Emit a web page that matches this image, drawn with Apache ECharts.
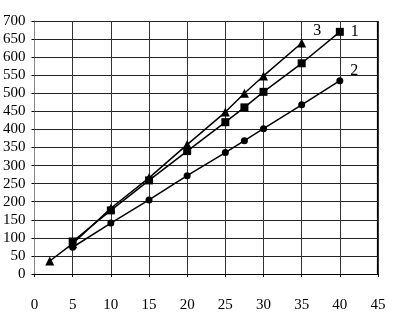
<!DOCTYPE html>
<html><head><meta charset="utf-8">
<script src="https://cdn.jsdelivr.net/npm/echarts@6/dist/echarts.min.js"></script>
<style>html,body{margin:0;padding:0;background:#fff}#c{width:400px;height:320px}</style>
</head><body><div id="c"></div>
<script>
const xTicks = [0,5,10,15,20,25,30,35,40,45];
const yTicks = [0,50,100,150,200,250,300,350,400,450,500,550,600,650,700];
const series1X = [5,10,15,20,25,27.5,30,35,40];
const series1Y = [90,176,259,340,420,461,504,583,670];
const series2X = [5,10,15,20,25,27.5,30,35,40];
const series2Y = [74,141,205,272,336,369,402,468,535];
const series3X = [2,5,10,15,20,25,27.5,30,35];
const series3Y = [36,84,182,266,358,448,500,548,639];
const seriesNames = ['1','2','3'];

const font = '"Liberation Sans Narrow","Liberation Serif",serif';
function pts(xs, ys, name, off){
  return xs.map((x,i)=>{
    const d = {value:[x, ys[i]]};
    if(i===xs.length-1){
      d.label = {show:true, formatter:name, position:'right', offset:off,
        color:'#000', fontFamily:'"Liberation Serif",serif', fontSize:16};
    }
    return d;
  });
}
const chart = echarts.init(document.getElementById('c'), null, {renderer:'canvas'});
const lineStyle = {color:'#000', width:1.5};
const itemStyle = {color:'#000'};
chart.setOption({
  animation:false,
  grid:{left:33, right:22, top:21, bottom:46, show:false},
  xAxis:{type:'value', min:0, max:45, interval:5,
    axisLine:{show:true, onZero:false, lineStyle:{color:'#000', width:1.2}},
    axisTick:{show:true, length:3, lineStyle:{color:'#000'}},
    axisLabel:{color:'#000', fontFamily:font, fontSize:15, margin:24},
    splitLine:{show:true, lineStyle:{color:'#333', width:1}}},
  yAxis:{type:'value', min:0, max:700, interval:50,
    axisLine:{show:true, onZero:false, lineStyle:{color:'#888', width:1}},
    axisTick:{show:true, length:3, lineStyle:{color:'#000'}},
    axisLabel:{color:'#000', fontFamily:font, fontSize:15, margin:9},
    splitLine:{show:true, lineStyle:{color:'#222', width:1}}},
  graphic:[{type:'rect', shape:{x:377.5, y:21, width:0, height:253}, style:{stroke:'#000', lineWidth:1.2, fill:null}}],
  series:[
    {name:seriesNames[0], type:'line', data:pts(series1X, series1Y, seriesNames[0], [2,0]),
     symbol:'rect', symbolSize:8, lineStyle, itemStyle},
    {name:seriesNames[1], type:'line', data:pts(series2X, series2Y, seriesNames[1], [2,-10]),
     symbol:'circle', symbolSize:7, lineStyle, itemStyle},
    {name:seriesNames[2], type:'line', data:pts(series3X, series3Y, seriesNames[2], [2,-12]),
     symbol:'triangle', symbolSize:9, lineStyle, itemStyle}
  ]
});
</script></body></html>
